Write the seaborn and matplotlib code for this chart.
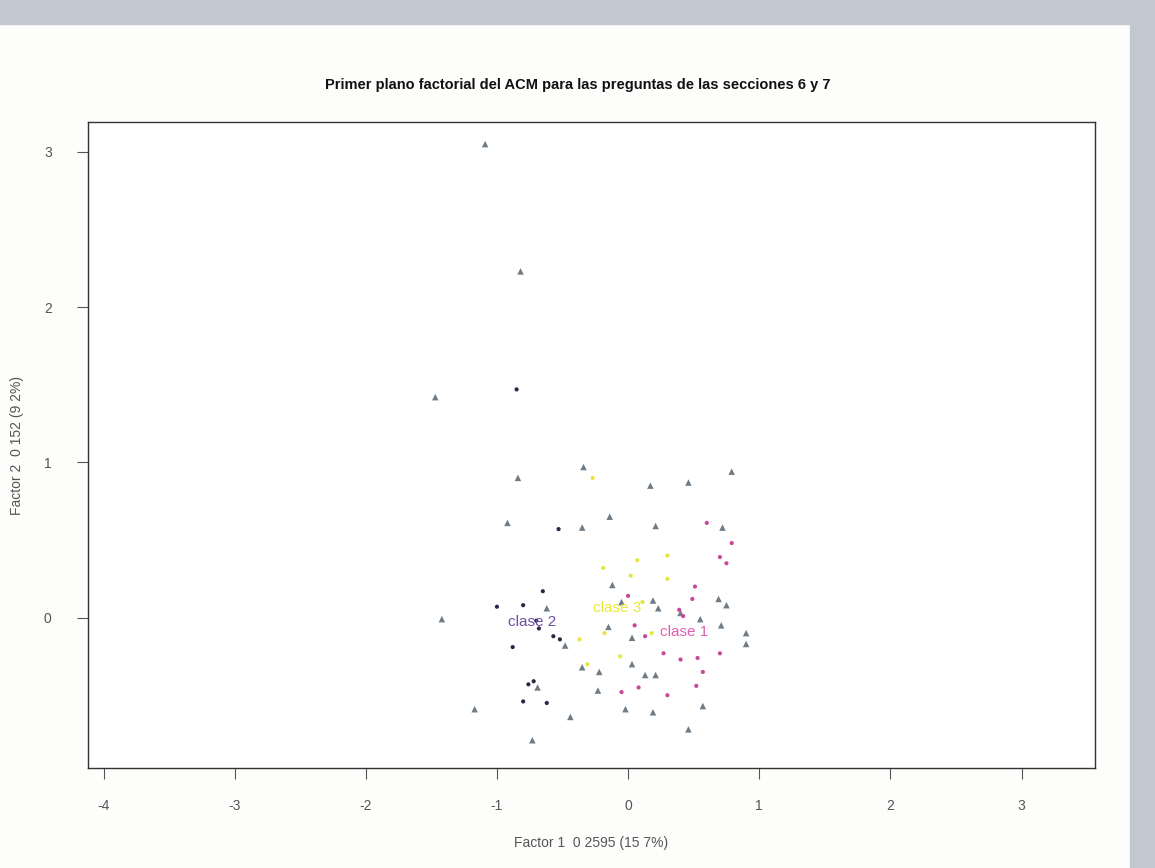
import numpy as np
import pandas as pd
import matplotlib
matplotlib.use("Agg")
import matplotlib.pyplot as plt
import seaborn as sns
from matplotlib.patches import Rectangle

# categorias (triangulos grises)
tri_x = [-1.09, -0.82, -1.47, -0.84, -0.92, -0.34, -0.35, -0.14, 0.17, 0.46, 0.79, 0.21,
         0.72, -0.12, 0.69, 0.75, -0.05, 0.19, 0.23, 0.55, 0.71, -0.15, -1.42, -0.62,
         -0.48, 0.03, 0.40, 0.90, 0.90, 0.03, -0.22, -0.35, 0.13, 0.21, -0.69, -0.23,
         -1.17, -0.44, -0.02, 0.19, 0.57, 0.46, -0.73]
tri_y = [3.05, 2.23, 1.42, 0.90, 0.61, 0.97, 0.58, 0.65, 0.85, 0.87, 0.94, 0.59,
         0.58, 0.21, 0.12, 0.08, 0.10, 0.11, 0.06, -0.01, -0.05, -0.06, -0.01, 0.06,
         -0.18, -0.13, 0.03, -0.10, -0.17, -0.30, -0.35, -0.32, -0.37, -0.37, -0.45, -0.47,
         -0.59, -0.64, -0.59, -0.61, -0.57, -0.72, -0.79]

# individuos clase 1
c1_x = [0.60, 0.79, 0.70, 0.75, 0.49, 0.39, 0.42, 0.05, 0.27, 0.40, 0.53, 0.57,
        0.70, 0.52, 0.30, 0.08, -0.05, 0.00, 0.51, 0.13]
c1_y = [0.61, 0.48, 0.39, 0.35, 0.12, 0.05, 0.01, -0.05, -0.23, -0.27, -0.26, -0.35,
        -0.23, -0.44, -0.50, -0.45, -0.48, 0.14, 0.20, -0.12]

# individuos clase 2
c2_x = [-0.85, -0.53, -0.65, -1.00, -0.80, -0.68, -0.57, -0.52, -0.88, -0.76, -0.72,
        -0.80, -0.62, -0.70]
c2_y = [1.47, 0.57, 0.17, 0.07, 0.08, -0.07, -0.12, -0.14, -0.19, -0.43, -0.41,
        -0.54, -0.55, -0.02]

# individuos clase 3
c3_x = [-0.27, -0.19, 0.07, 0.02, 0.30, 0.30, 0.11, -0.37, -0.18, 0.18, -0.06, -0.31]
c3_y = [0.90, 0.32, 0.37, 0.27, 0.40, 0.25, 0.10, -0.14, -0.10, -0.10, -0.25, -0.30]

# centros de clase (etiquetas)
clase_lab = ["clase 1", "clase 2", "clase 3"]
clase_x = [0.43, -0.73, -0.08]
clase_y = [-0.09, -0.03, 0.06]
clase_col = ["#e060b0", "#6c4f9e", "#e8e83a"]

df = pd.concat([
    pd.DataFrame({"x": tri_x, "y": tri_y, "grupo": "mod", "tipo": "tri"}),
    pd.DataFrame({"x": c1_x, "y": c1_y, "grupo": "clase 1", "tipo": "dot"}),
    pd.DataFrame({"x": c2_x, "y": c2_y, "grupo": "clase 2", "tipo": "dot"}),
    pd.DataFrame({"x": c3_x, "y": c3_y, "grupo": "clase 3", "tipo": "dot"}),
], ignore_index=True)

pal = {"mod": "#6f7c86", "clase 1": "#c8489a", "clase 2": "#2e2548", "clase 3": "#e6e640"}

sns.set_style("white")
plt.rcParams['font.family'] = ['Liberation Sans', 'DejaVu Sans']
plt.rcParams['axes.unicode_minus'] = False

fig = plt.figure(figsize=(11.55, 8.68), dpi=100)
fig.patch.set_facecolor("#fdfdfc")
# borde gris del escaneo
fig.patches.append(Rectangle((0, 0.972), 1, 0.028, transform=fig.transFigure,
                             color="#c3c8d0", zorder=0))
fig.patches.append(Rectangle((0.978, 0), 0.022, 1, transform=fig.transFigure,
                             color="#c3c8d0", zorder=0))

ax = fig.add_axes([0.076, 0.115, 0.872, 0.744])
ax.set_facecolor("white")

tri = df[df.tipo == "tri"]
dots = df[df.tipo == "dot"]
sns.scatterplot(data=tri, x="x", y="y", hue="grupo", palette=pal, marker="^",
                s=22, linewidth=0, ax=ax, legend=False)
sns.scatterplot(data=dots, x="x", y="y", hue="grupo", palette=pal, marker="o",
                s=9, linewidth=0, ax=ax, legend=False)

for lab, xx, yy, col in zip(clase_lab, clase_x, clase_y, clase_col):
    ax.text(xx, yy, lab, color=col, fontsize=11, ha="center", va="center")

ax.set_xlim(-4.12, 3.56)
ax.set_ylim(-0.97, 3.19)
ax.set_xticks([-4, -3, -2, -1, 0, 1, 2, 3])
ax.set_yticks([0, 1, 2, 3])
ax.tick_params(axis="both", direction="out", length=8, width=0.8, color="#555555",
               labelcolor="#555555", labelsize=10, pad=14, left=True, bottom=True)
ax.tick_params(axis="y", pad=18)
for sp in ax.spines.values():
    sp.set_color("#333333")
    sp.set_linewidth(1.0)

ax.set_xlabel("Factor 1  0 2595 (15 7%)", fontsize=10, color="#555555", labelpad=17)
ax.set_ylabel("Factor 2  0 152 (9 2%)", fontsize=10, color="#555555", labelpad=14)
fig.text(0.5, 0.902, "Primer plano factorial del ACM para las preguntas de las secciones 6 y 7",
         ha="center", va="center", fontsize=10.5, fontweight="bold", color="#111111")

fig.savefig("out.png", dpi=100)
